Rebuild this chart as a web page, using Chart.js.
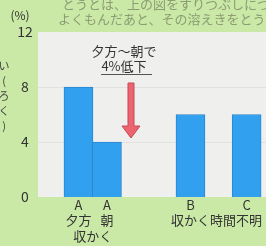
<!DOCTYPE html>
<html>
<head>
<meta charset="utf-8">
<script src="https://cdn.jsdelivr.net/npm/chart.js@4"></script>
<style>
  html, body { margin: 0; padding: 0; background: #cbe9a6; }
  #wrap { width: 266px; height: 246px; position: relative; }
</style>
</head>
<body>
<div id="wrap"><canvas id="c"></canvas></div>
<script>
// values
const categories = ['A 夕方', 'A 朝', 'B', 'C'];
const xPos = [1.42, 2.42, 5.35, 7.32];
const values = [8, 4, 6, 6];
const yTicks = [0, 4, 8, 12];
const tickLines = [['A', '夕方'], ['A', '朝'], ['B', '収かく'], ['C', '時間不明']];
const noteLines = ['夕方～朝で', '4%低下'];
const topLines = ['とうとは、上の図をすりつぶしにつけに', 'よくもんだあと、その溶えきをとうど'];

const hand = '"Noto Sans CJK JP", sans-serif';

const paper = {
  id: 'paper',
  beforeDraw(chart) {
    const { ctx, chartArea: a, scales: { y } } = chart;
    ctx.save();
    ctx.fillStyle = '#cbe9a6';
    ctx.fillRect(0, 0, chart.width, chart.height);
    ctx.fillStyle = '#eff0ee';
    ctx.fillRect(a.left, a.top, a.right - a.left, a.bottom - a.top);
    ctx.strokeStyle = '#dfe2df';
    ctx.lineWidth = 1;
    [4, 8].forEach(v => {
      const py = Math.round(y.getPixelForValue(v)) + 0.5;
      ctx.beginPath(); ctx.moveTo(a.left, py); ctx.lineTo(a.right, py); ctx.stroke();
    });
    ctx.restore();
  },
  afterDraw(chart) {
    const { ctx, chartArea: a, scales: { x, y } } = chart;
    ctx.save();
    ctx.fillStyle = '#333';
    ctx.textAlign = 'center';
    ctx.textBaseline = 'middle';

    // y ticks
    ctx.font = '14px ' + hand;
    yTicks.forEach(v => ctx.fillText(String(v), 25, y.getPixelForValue(v)));
    ctx.font = '12px ' + hand;
    ctx.fillText('(%)', 20, 15);

    // left edge vertical title, cut off by the frame
    ctx.fillStyle = '#444';
    ctx.font = '11px ' + hand;
    ['い', '(', 'ろ', 'く', ')'].forEach((ch, i) => ctx.fillText(ch, 4, 66 + i * 15));

    // x labels
    ctx.fillStyle = '#333';
    ctx.font = '13px ' + hand;
    xPos.forEach((p, i) => {
      let px = x.getPixelForValue(p);
      tickLines[i].forEach((t, j) => {
        let tx = px;
        const w = ctx.measureText(t).width;
        if (tx + w / 2 > chart.width - 4) tx = chart.width - 4 - w / 2;
        ctx.fillText(t, tx, a.bottom + 8 + j * 15);
      });
    });
    ctx.fillText('収かく', (x.getPixelForValue(xPos[0]) + x.getPixelForValue(xPos[1])) / 2, a.bottom + 39);

    // top handwritten lines
    ctx.fillStyle = '#8c9c74';
    ctx.font = '13px ' + hand;
    ctx.textAlign = 'left';
    ctx.fillText(topLines[0], 62, 4);
    ctx.fillText(topLines[1], 58, 19);

    // note + arrow
    ctx.fillStyle = '#333';
    ctx.textAlign = 'center';
    ctx.font = '13px ' + hand;
    ctx.fillText(noteLines[0], 124, 51);
    ctx.fillText(noteLines[1], 124, 66);
    ctx.strokeStyle = '#555';
    ctx.lineWidth = 1;
    ctx.beginPath(); ctx.moveTo(101, 74.5); ctx.lineTo(152, 74.5); ctx.stroke();

    const ax = 131, top = y.getPixelForValue(8) - 4, bot = y.getPixelForValue(4) - 4;
    ctx.fillStyle = '#ec6470';
    ctx.strokeStyle = '#c44a55';
    ctx.beginPath();
    ctx.moveTo(ax - 3, top); ctx.lineTo(ax + 3, top); ctx.lineTo(ax + 3, bot - 12);
    ctx.lineTo(ax + 9, bot - 12); ctx.lineTo(ax, bot); ctx.lineTo(ax - 9, bot - 12);
    ctx.lineTo(ax - 3, bot - 12); ctx.closePath();
    ctx.fill(); ctx.stroke();
    ctx.restore();
  }
};

new Chart(document.getElementById('c'), {
  type: 'bar',
  data: {
    labels: categories,
    datasets: [{
      data: xPos.map((p, i) => ({ x: p, y: values[i] })),
      backgroundColor: '#31a0ee',
      borderColor: '#2b86cf',
      borderWidth: 1,
      barThickness: 29
    }]
  },
  options: {
    responsive: true,
    maintainAspectRatio: false,
    animation: false,
    layout: { padding: { left: 38, top: 32, bottom: 49, right: 0 } },
    plugins: { legend: { display: false }, tooltip: { enabled: false } },
    scales: {
      x: { type: 'linear', min: 0, max: 8, offset: false, display: false },
      y: { min: 0, max: 12, display: false }
    }
  },
  plugins: [paper]
});
</script>
</body>
</html>
